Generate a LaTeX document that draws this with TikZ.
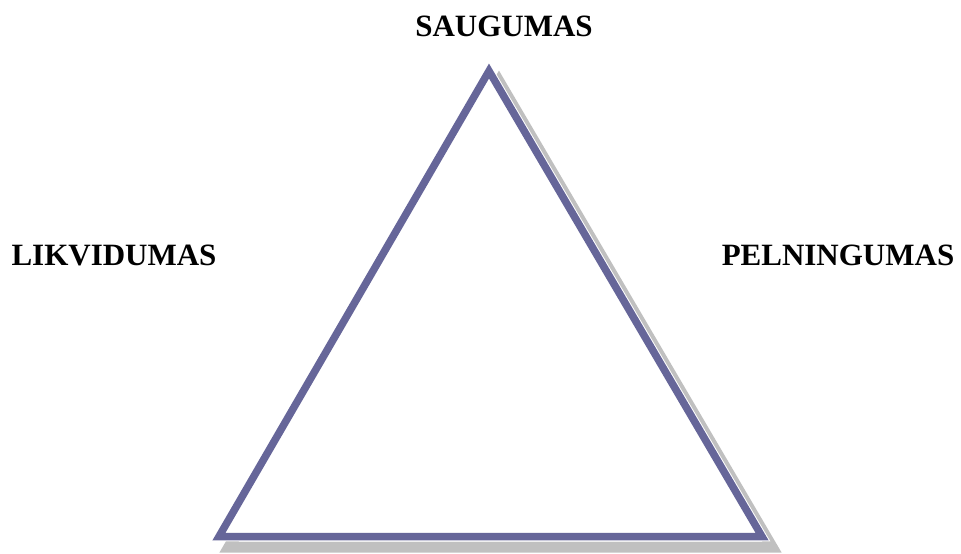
\documentclass[tikz,border=0pt]{standalone}
\usepackage{fontspec}
\setmainfont{Liberation Serif}
\definecolor{tri}{RGB}{102,102,153}
\definecolor{shad}{RGB}{192,192,192}
\begin{document}
\begin{tikzpicture}[x=1pt,y=-1pt,
  lbl/.style={font=\bfseries\fontsize{31}{36}\selectfont, inner sep=0pt, anchor=base},
  edge/.style={tri, line width=7.5pt, line join=miter},
  shadowline/.style={shad, line width=11pt, line join=miter},
  gapline/.style={white, line width=9.5pt, line join=miter, fill=white}]
\useasboundingbox (0,0) rectangle (961,554);
\coordinate (A) at (489,71);
\coordinate (B) at (219,536.5);
\coordinate (C) at (762,536.5);
\draw[shadowline] ([shift={(10,10.5)}]A) -- ([shift={(10,10.5)}]B) -- ([shift={(10,10.5)}]C) -- cycle;
\draw[gapline] (A) -- (B) -- (C) -- cycle;
\draw[edge] (A) -- (B) -- (C) -- cycle;
\node[lbl] (s) at (504,36) {SAUGUMAS};
\node[lbl] (l) at (114,265) {LIKVIDUMAS};
\node[lbl] (p) at (838,265) {PELNINGUMAS};
\end{tikzpicture}
\end{document}
